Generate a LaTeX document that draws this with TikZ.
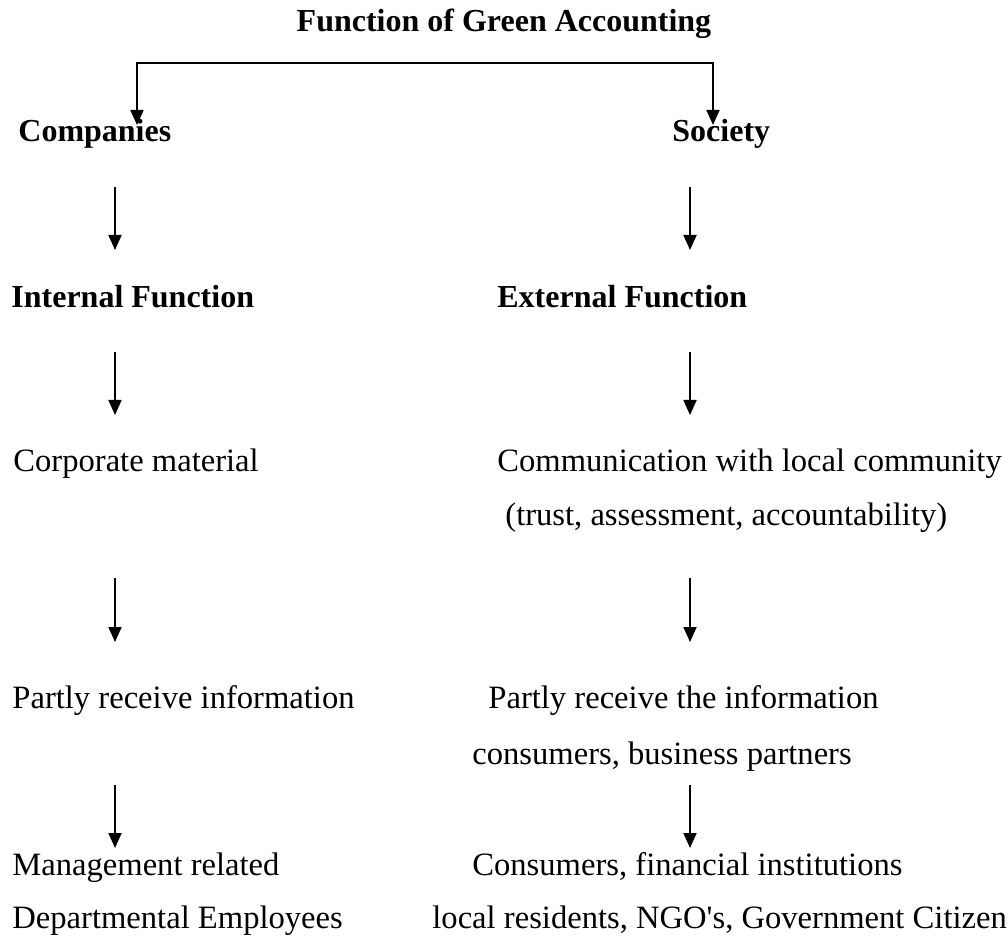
\documentclass[tikz,border=0pt]{standalone}
\usepackage{fontspec}
\setmainfont{Liberation Serif}
\usetikzlibrary{arrows.meta}

\tikzset{
  txt/.style={anchor=base west,inner sep=0pt,font=\fontsize{16.3}{19.5}\selectfont},
  hd/.style={txt,font=\fontsize{16}{19.5}\selectfont\bfseries},
  arr/.style={line width=0.9pt,-{Triangle[length=7.5pt,width=6.5pt]}}
}

\begin{document}
\begin{tikzpicture}[x=0.5pt,y=-0.5pt]
\useasboundingbox (0,0) rectangle (1008,936);
%\draw[step=50,gray,very thin] (0,0) grid (1008,936); %background grid

\node[hd,anchor=base] (title) at (504,32) {Function of Green Accounting};

% left column
\node[hd]  (comp)  at (18,142)  {Companies};
\node[hd]  (intf)  at (11,308)  {Internal Function};
\node[txt] (corp)  at (13,472)  {Corporate material};
\node[txt] (partl) at (12,708)  {Partly receive information};
\node[txt] (mgmt)  at (12,875)  {Management related};
\node[txt] (dept)  at (12,928)  {Departmental Employees};

% right column
\node[hd]  (soc)   at (672,142) {Society};
\node[hd]  (extf)  at (497,308) {External Function};
\node[txt] (comm)  at (497,472) {Communication with local community};
\node[txt] (trust) at (505,525) {(trust, assessment, accountability)};
\node[txt] (partr) at (488,708) {Partly receive the information};
\node[txt] (cons)  at (472,764) {consumers, business partners};
\node[txt] (consf) at (472,875) {Consumers, financial institutions};
\node[txt] (locr)  at (432,928) {local residents, NGO\textquotesingle s, Government Citizen};

\coordinate (tl) at (137,63);
\coordinate (tr) at (713,63);
\coordinate (lx) at (115,0);
\coordinate (rx) at (690,0);

%--------------------------------------------------------
\draw[arr,{Triangle[length=7.5pt,width=6.5pt]}-{Triangle[length=7.5pt,width=6.5pt]},
      shorten <=8.5pt,shorten >=8.5pt]
  (tl |- comp.base) -- (tl) -- (tr) -- (tr |- soc.base);

\foreach \a/\b/\s/\e in {comp/intf/22.5/29, intf/corp/22/28.5,
                         corp/partl/53/33, partl/mgmt/38.5/13.5}
  \draw[arr,shorten <=\s pt,shorten >=\e pt] (\a.base -| lx) -- (\b.base -| lx);

\foreach \a/\b/\s/\e in {soc/extf/22.5/29, extf/comm/22/28.5,
                         trust/partr/26.5/33, cons/consf/10.5/13.5}
  \draw[arr,shorten <=\s pt,shorten >=\e pt] (\a.base -| rx) -- (\b.base -| rx);
\end{tikzpicture}
\end{document}
